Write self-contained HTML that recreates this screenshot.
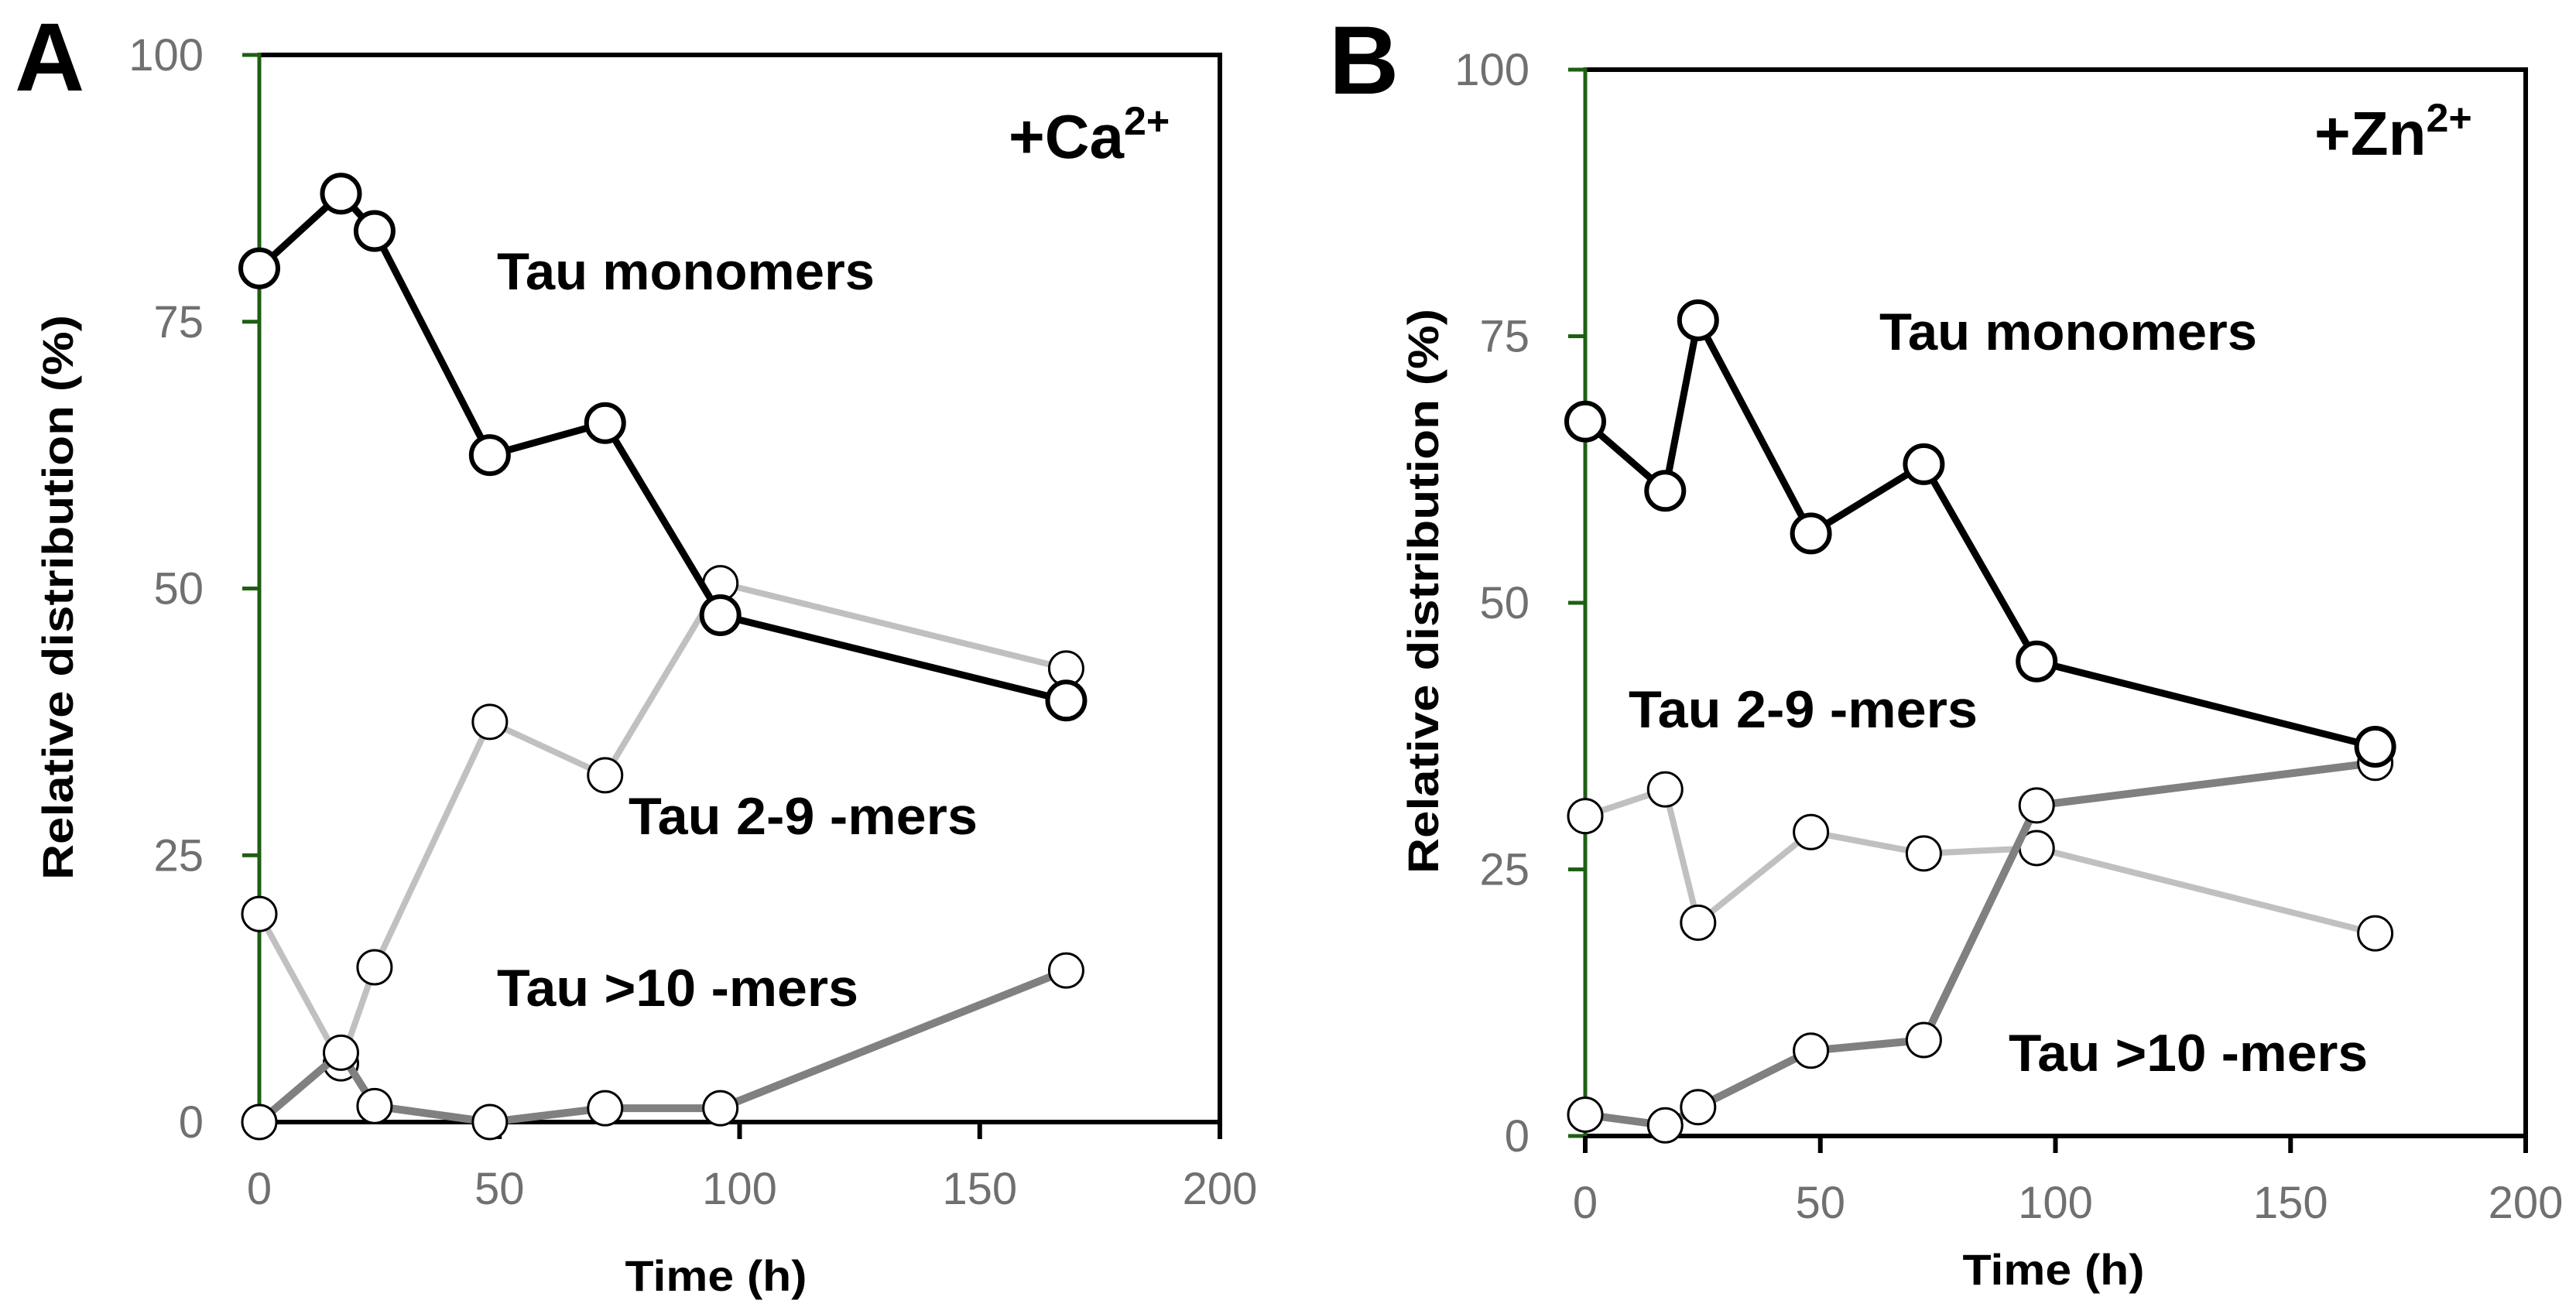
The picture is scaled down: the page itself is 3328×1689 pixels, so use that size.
<!DOCTYPE html>
<html><head><meta charset="utf-8"><style>
html,body{margin:0;padding:0;background:#fff;}
svg{display:block;font-family:"Liberation Sans",sans-serif;}
</style></head><body>
<svg id="chart" width="3328" height="1689" viewBox="0 0 3328 1689"></svg>
<script>
const times = [0, 17, 24, 48, 72, 96, 168];
const caMonomers = [80, 87, 83.5, 62.5, 65.5, 47.5, 39.5];
const caOligomers = [19.5, 5.5, 14.5, 37.5, 32.5, 50.5, 42.5];
const caLarge = [0, 6.5, 1.5, 0, 1.3, 1.3, 14.2];
const znMonomers = [67, 60.5, 76.5, 56.5, 63, 44.5, 36.5];
const znOligomers = [30, 32.5, 20, 28.5, 26.5, 27, 19];
const znLarge = [2, 1, 2.7, 8, 9, 31, 35];
const xTicks = [0, 50, 100, 150, 200];
const yTicks = [0, 25, 50, 75, 100];

const NS = "http://www.w3.org/2000/svg";
const svg = document.getElementById("chart");
function mk(tag, attrs, parent, text) {
  const e = document.createElementNS(NS, tag);
  for (const k in attrs) e.setAttribute(k, attrs[k]);
  if (text !== undefined) e.textContent = text;
  (parent || svg).appendChild(e);
  return e;
}

const panels = [
  {id:"a", letter:"A", L:335, R:1576, T:71, B:1450, lx:19, lb:117, ion:"Ca", ionX:1303, ionB:204,
   series:[caOligomers, caLarge, caMonomers],
   yTitleX:74, yTitleY:772, xTitleX:925, xTitleB:1668, xlabB:1556,
   ann:[["Tau monomers",642,374,488],["Tau 2-9 -mers",812,1078,451],["Tau >10 -mers",642,1300,467]]},
  {id:"b", letter:"B", L:2048, R:3263, T:90, B:1468, lx:1717, lb:121, ion:"Zn", ionX:2990, ionB:200,
   series:[znOligomers, znLarge, znMonomers],
   yTitleX:1838, yTitleY:764, xTitleX:2653, xTitleB:1660, xlabB:1574,
   ann:[["Tau monomers",2428,452,488],["Tau 2-9 -mers",2104,940,451],["Tau >10 -mers",2595,1384,464]]}
];
const styles = [
  {name:"oligomers", color:"#c0c0c0", w:8},
  {name:"large-aggregates", color:"#808080", w:10},
  {name:"monomers", color:"#000000", w:9}
];

panels.forEach(p => {
  const g = mk("g", {});
  
  
  const xs = v => p.L + (v / 200) * (p.R - p.L);
  const ys = v => p.B - (v / 100) * (p.B - p.T);

  const t = mk("text", {x:p.lx, y:p.lb, "font-size":125, "font-weight":"bold", fill:"#000"}, g, p.letter);
  
  

  // axes frame
  const top = mk("line", {x1:p.L, y1:p.T, x2:p.R, y2:p.T, stroke:"#000", "stroke-width":6}, g);
  
  
  const right = mk("line", {x1:p.R, y1:p.T-3, x2:p.R, y2:p.B+22, stroke:"#000", "stroke-width":6}, g);
  
  
  const xa = mk("line", {x1:p.L, y1:p.B, x2:p.R, y2:p.B, stroke:"#000", "stroke-width":6}, g);
  
  
  const ya = mk("line", {x1:p.L, y1:p.T-3, x2:p.L, y2:p.B+3, stroke:"#1f5f12", "stroke-width":5}, g);
  
  

  yTicks.forEach(v => {
    const tk = mk("line", {x1:p.L-22, y1:ys(v), x2:p.L, y2:ys(v), stroke:"#1f5f12", "stroke-width":5}, g);
    
    
    const lb = mk("text", {x:p.L-72, y:ys(v)+20, "font-size":58, fill:"#707070", "text-anchor":"end"}, g, String(v));
    
    
  });
  xTicks.forEach(v => {
    const tk = mk("line", {x1:xs(v), y1:p.B, x2:xs(v), y2:p.B+22, stroke:"#000", "stroke-width":6}, g);
    
    
    const lb = mk("text", {x:xs(v), y:p.xlabB, "font-size":58, fill:"#707070", "text-anchor":"middle"}, g, String(v));
    
    
  });

  const yt = mk("text", {x:0, y:0, "font-size":56, "font-weight":"bold", fill:"#000", "text-anchor":"middle",
    transform:`translate(${p.yTitleX + 20},${p.yTitleY}) rotate(-90)`, textLength:730, lengthAdjust:"spacingAndGlyphs"}, g, "Relative distribution (%)");
  
  
  const xt = mk("text", {x:p.xTitleX, y:p.xTitleB, "font-size":56, "font-weight":"bold", fill:"#000", "text-anchor":"middle",
    textLength:235, lengthAdjust:"spacingAndGlyphs"}, g, "Time (h)");
  
  

  const ion = mk("text", {x:p.ionX, y:p.ionB, "font-size":80, "font-weight":"bold", fill:"#000"}, g);
  
  
  mk("tspan", {}, ion, "+" + p.ion);
  mk("tspan", {dy:-30, "font-size":52}, ion, "2+");

  p.ann.forEach(a => {
    const at = mk("text", {x:a[1], y:a[2], "font-size":68, "font-weight":"bold", fill:"#000", textLength:a[3], lengthAdjust:"spacingAndGlyphs"}, g, a[0]);
    
    
  });

  p.series.forEach((vals, si) => {
    const st = styles[si];
    const sg = mk("g", {}, g);
    
    
    const pts = vals.map((v, i) => xs(times[i]) + "," + ys(v)).join(" ");
    const pl = mk("polyline", {points:pts, fill:"none", stroke:st.color, "stroke-width":st.w, "stroke-linejoin":"round"}, sg);
    
    
    vals.forEach((v, i) => {
      const c = mk("circle", {cx:xs(times[i]), cy:ys(v), r:st.name === "monomers" ? 24 : 22, fill:"#fff", stroke:"#000", "stroke-width":st.name === "monomers" ? 6 : 3}, sg);
      
      
    });
  });
});
</script>
</body></html>
